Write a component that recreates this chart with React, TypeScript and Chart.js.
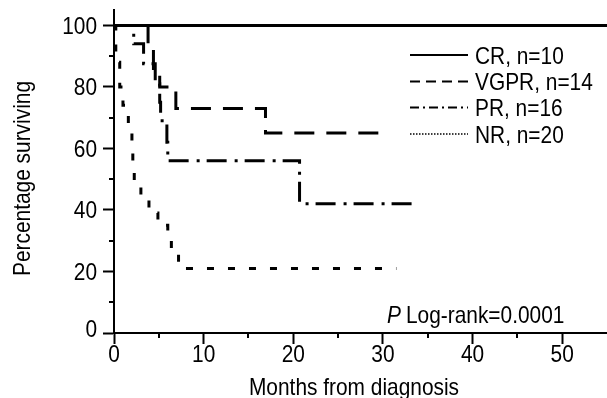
import React, { useEffect, useRef } from 'react';
import { Chart, registerables } from 'chart.js';
Chart.register(...registerables);

const FONT = '"Liberation Sans", Arial, Helvetica, sans-serif';
const SX = 0.87; // condensed look
const FS = 24;

// Kaplan-Meier step data (months, % surviving)
const crX = [0, 55];
const crY = [100, 100];
const vgprX = [0, 3.8, 4.4, 5.1, 6.9, 16.9, 30];
const vgprY = [100, 93, 86, 80, 73, 65, 65];
const prX = [0, 2.2, 3.3, 4.6, 5.1, 5.2, 5.9, 6.0, 20.7, 34];
const prY = [100, 94, 87.5, 81, 75, 69, 62, 56, 42, 42];
const nrX = [0, 0.2, 0.64, 1.0, 1.6, 2.0, 2.1, 2.26, 3.0, 3.9, 4.9, 6.0, 6.4, 7.2, 31.5];
const nrY = [100, 88, 80, 74, 68, 62, 55, 49, 44, 39, 35, 31, 26, 21, 21];

const xTickValues = [0, 10, 20, 30, 40, 50];
const yTickValues = [0, 20, 40, 60, 80, 100];
const xMinorTicks = [5, 15, 25, 35, 45];
const yMinorTicks = [10, 30, 50, 70, 90];
const legendLabels = ['CR, n=10', 'VGPR, n=14', 'PR, n=16', 'NR, n=20'];
const legendDashes = [[], [10, 6], [9, 4, 2, 4], [1.5, 1.5]];
const xTitle = 'Months from diagnosis';
const yTitle = 'Percentage surviving';
const pValueText = 'Log-rank=0.0001';

const toPts = (xs: number[], ys: number[]) => xs.map((x, i) => ({ x, y: ys[i] }));

function drawText(
  ctx: CanvasRenderingContext2D,
  text: string,
  x: number,
  y: number,
  align: CanvasTextAlign,
  baseline: CanvasTextBaseline,
  italic = false,
  rotate = false,
) {
  ctx.save();
  ctx.translate(x, y);
  if (rotate) ctx.rotate(-Math.PI / 2);
  ctx.scale(SX, 1);
  ctx.font = `${italic ? 'italic ' : ''}${FS}px ${FONT}`;
  ctx.textAlign = align;
  ctx.textBaseline = baseline;
  ctx.fillStyle = '#000';
  ctx.fillText(text, 0, 0);
  const w = ctx.measureText(text).width * SX;
  ctx.restore();
  return w;
}

export default function App() {
  const ref = useRef<HTMLCanvasElement>(null);
  useEffect(() => {
    const extras = {
      id: 'extras',
      afterDraw(chart: any) {
        const ctx: CanvasRenderingContext2D = chart.ctx;
        const xs = chart.scales.x;
        const ys = chart.scales.y;
        const area = chart.chartArea;
        ctx.save();
        ctx.strokeStyle = '#000';
        ctx.lineWidth = 2;
        ctx.setLineDash([]);
        xMinorTicks.forEach((v) => {
          const p = Math.round(xs.getPixelForValue(v));
          ctx.beginPath();
          ctx.moveTo(p, area.bottom);
          ctx.lineTo(p, area.bottom + 5);
          ctx.stroke();
        });
        yMinorTicks.forEach((v) => {
          const p = Math.round(ys.getPixelForValue(v));
          ctx.beginPath();
          ctx.moveTo(area.left - 5, p);
          ctx.lineTo(area.left, p);
          ctx.stroke();
        });
        // tick labels
        yTickValues.forEach((v) => {
          const p = ys.getPixelForValue(v) + (v === 0 ? -5 : 0);
          drawText(ctx, String(v), 97, p + 8.5, 'right', 'alphabetic');
        });
        xTickValues.forEach((v) => {
          drawText(ctx, String(v), xs.getPixelForValue(v), 362, 'center', 'alphabetic');
        });
        // axis titles
        drawText(ctx, xTitle, 354, 395, 'center', 'alphabetic');
        drawText(ctx, yTitle, 30, 178.5, 'center', 'alphabetic', false, true);
        // legend
        const rowY = [55, 81.5, 107.5, 134];
        legendLabels.forEach((t, i) => {
          ctx.beginPath();
          ctx.lineWidth = i === 3 ? 1.5 : 2;
          ctx.setLineDash(legendDashes[i]);
          ctx.moveTo(410, rowY[i]);
          ctx.lineTo(468, rowY[i]);
          ctx.stroke();
          ctx.setLineDash([]);
          drawText(ctx, t, 475, rowY[i] + 8.5, 'left', 'alphabetic');
        });
        // p-value
        const w = drawText(ctx, 'P', 387, 323, 'left', 'alphabetic', true);
        drawText(ctx, pValueText, 387 + w + 5, 323, 'left', 'alphabetic');
        ctx.restore();
      },
    };

    const common = { pointRadius: 0, stepped: true as const, borderColor: '#000', borderWidth: 3, fill: false };
    const chart = new Chart(ref.current!, {
      type: 'line',
      data: {
        datasets: [
          { ...common, label: 'CR', data: toPts(crX, crY) },
          { ...common, label: 'VGPR', data: toPts(vgprX, vgprY), borderDash: [20, 12] },
          { ...common, label: 'PR', data: toPts(prX, prY), borderDash: [20, 8, 3, 7] },
          { ...common, label: 'NR', data: toPts(nrX, nrY), borderDash: [7, 14] },
        ],
      },
      options: {
        responsive: false,
        animation: false,
        devicePixelRatio: 1,
        layout: { padding: { top: 10, right: 0, left: 0, bottom: 0 } },
        plugins: { legend: { display: false }, tooltip: { enabled: false } },
        scales: {
          x: {
            type: 'linear',
            min: 0,
            max: 55,
            border: { display: true, color: '#000', width: 2 },
            grid: { drawOnChartArea: false, drawTicks: true, tickLength: 11, color: '#000', tickWidth: 2 },
            ticks: { stepSize: 10, includeBounds: false, display: false },
            afterFit: (s: any) => { s.height = 65; },
          },
          y: {
            type: 'linear',
            min: 0,
            max: 105,
            border: { display: true, color: '#000', width: 2 },
            grid: { drawOnChartArea: false, drawTicks: true, tickLength: 11, color: '#000', tickWidth: 2 },
            ticks: { stepSize: 20, includeBounds: false, display: false },
            afterFit: (s: any) => { s.width = 114; },
          },
        },
      },
      plugins: [extras],
    });
    return () => chart.destroy();
  }, []);
  return (
    <div style={{ position: 'fixed', left: 0, top: 0, width: 607, height: 398, background: '#fff' }}>
      <canvas ref={ref} width={607} height={398} style={{ display: 'block', width: 607, height: 398 }} />
    </div>
  );
}
